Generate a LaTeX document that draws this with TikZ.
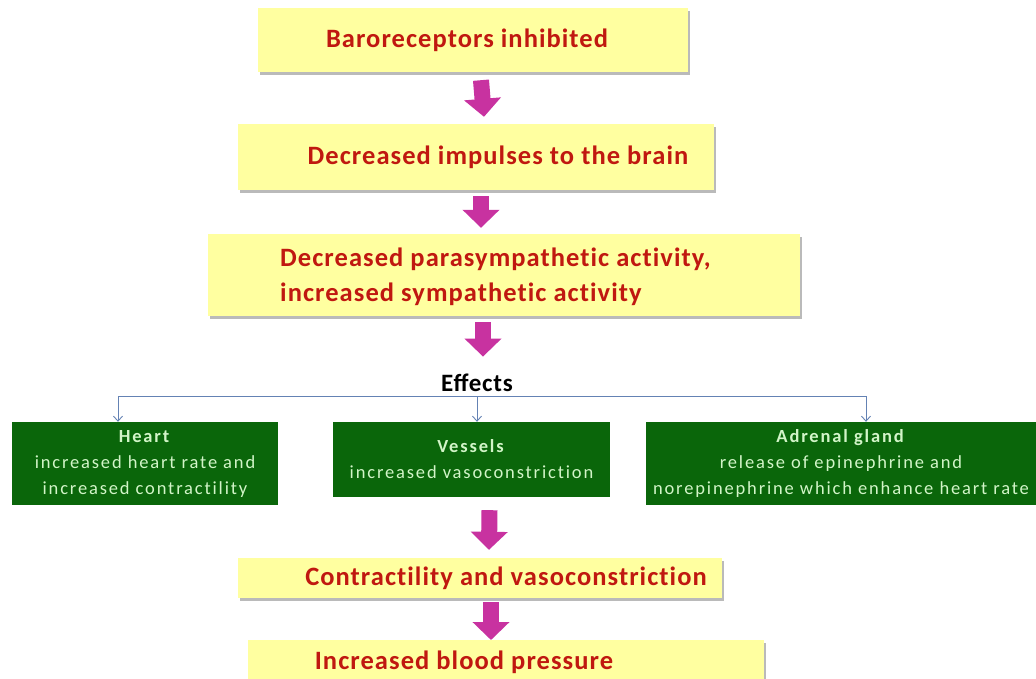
\documentclass[tikz,border=0pt]{standalone}
\usepackage{fontspec}
\setmainfont{Carlito}
\usetikzlibrary{arrows.meta,shadows,calc}
\definecolor{ybox}{RGB}{255,255,160}
\definecolor{ytext}{RGB}{192,24,16}
\definecolor{gbox}{RGB}{10,102,10}
\definecolor{gtext}{RGB}{210,245,200}
\definecolor{mag}{RGB}{200,50,160}
\definecolor{forkc}{RGB}{100,130,180}
\newcommand{\yfont}{\fontsize{26.5}{35}\selectfont\bfseries\addfontfeature{LetterSpace=4,Ligatures=NoCommon}}
\newcommand{\gfont}{\fontsize{18.5}{26}\selectfont\addfontfeature{LetterSpace=10,Ligatures=NoCommon}}
\tikzset{
  ybx/.style={fill=ybox, draw=none, inner sep=0pt, drop shadow={shadow xshift=2pt, shadow yshift=-3pt, fill=black!45, opacity=0.6},
     font=\yfont, text=ytext},
  gbx/.style={fill=gbox, draw=none, inner sep=0pt, text=gtext, font=\gfont, align=center},
  fat/.style={draw=mag, line width=16pt, -{Triangle[width=36pt,length=18pt]}},
  fork/.style={draw=forkc, line width=0.9pt},
  forkarr/.style={fork, -{Straight Barb[length=5pt,width=9pt]}},
}
\begin{document}
\begin{tikzpicture}[x=1pt,y=-1pt]
\useasboundingbox (0,0) rectangle (1036,679);
\fill[white] (0,0) rectangle (1036,679);
% yellow boxes
\node[ybx, minimum width=430pt, minimum height=64pt] (b1) at (473,40) {\hspace*{-12pt}Baroreceptors inhibited};
\node[ybx, minimum width=476pt, minimum height=66pt] (b2) at (476,157) {\hspace*{44pt}Decreased impulses to the brain};
\node[ybx, minimum width=592pt, minimum height=82pt] (b3) at (504,275) {};
\node[anchor=west, font=\yfont, text=ytext, align=left, inner sep=0pt] (b3t) at (280,276.5) {Decreased parasympathetic activity,\\ increased sympathetic activity};
\node[font=\fontsize{25}{28}\selectfont\bfseries\addfontfeature{LetterSpace=3}] (eff) at (477,383) {Effects};
% green boxes
\node[gbx, minimum width=266pt, minimum height=83pt] (g1) at (145,463.5) {\textbf{Heart}\\ increased heart rate and\\ increased contractility};
\node[gbx, minimum width=277pt, minimum height=75pt] (g2) at (471.5,459.5) {\textbf{Vessels}\\ increased vasoconstriction};
\node[gbx, minimum width=390pt, minimum height=83pt] (g3) at (841,463.5) {\textbf{Adrenal gland}\\ release of epinephrine and\\ norepinephrine which enhance heart rate};
\node[ybx, minimum width=484pt, minimum height=40pt] (b4) at (480,578) {\hspace*{52pt}Contractility and vasoconstriction};
\node[ybx, minimum width=516pt, minimum height=44pt, anchor=north] (b5) at (506,640) {\hspace*{-84pt}\raisebox{3pt}{Increased blood pressure}};
% fork
\coordinate (fL) at (118,396);
\coordinate (fM) at (477,396);
\coordinate (fR) at (866,396);
\draw[fork] (fL) -- (fR);
\draw[forkarr] (fL) -- (fL |- g1.north);
\draw[forkarr] (fM) -- (fM |- g2.north);
\draw[forkarr] (fR) -- (fR |- g3.north);
% fat arrows
\draw[fat] ([xshift=8pt,yshift=-8pt]b1.south) -- ([xshift=8pt,yshift=7pt]b2.north);
\draw[fat] ([xshift=5pt,yshift=-6pt]b2.south) -- ([xshift=5pt,yshift=6pt]b2.south |- b3.north);
\draw[fat] ([xshift=-21pt,yshift=-6pt]b3.south) -- ([xshift=6pt,yshift=14pt]eff.north);
\draw[fat] ([xshift=18pt,yshift=-13pt]g2.south) -- ([xshift=9pt,yshift=8pt]b4.north);
\draw[fat] ([xshift=11pt,yshift=-4pt]b4.south) -- ([xshift=-15pt,yshift=0pt]b5.north);
\end{tikzpicture}
\end{document}
